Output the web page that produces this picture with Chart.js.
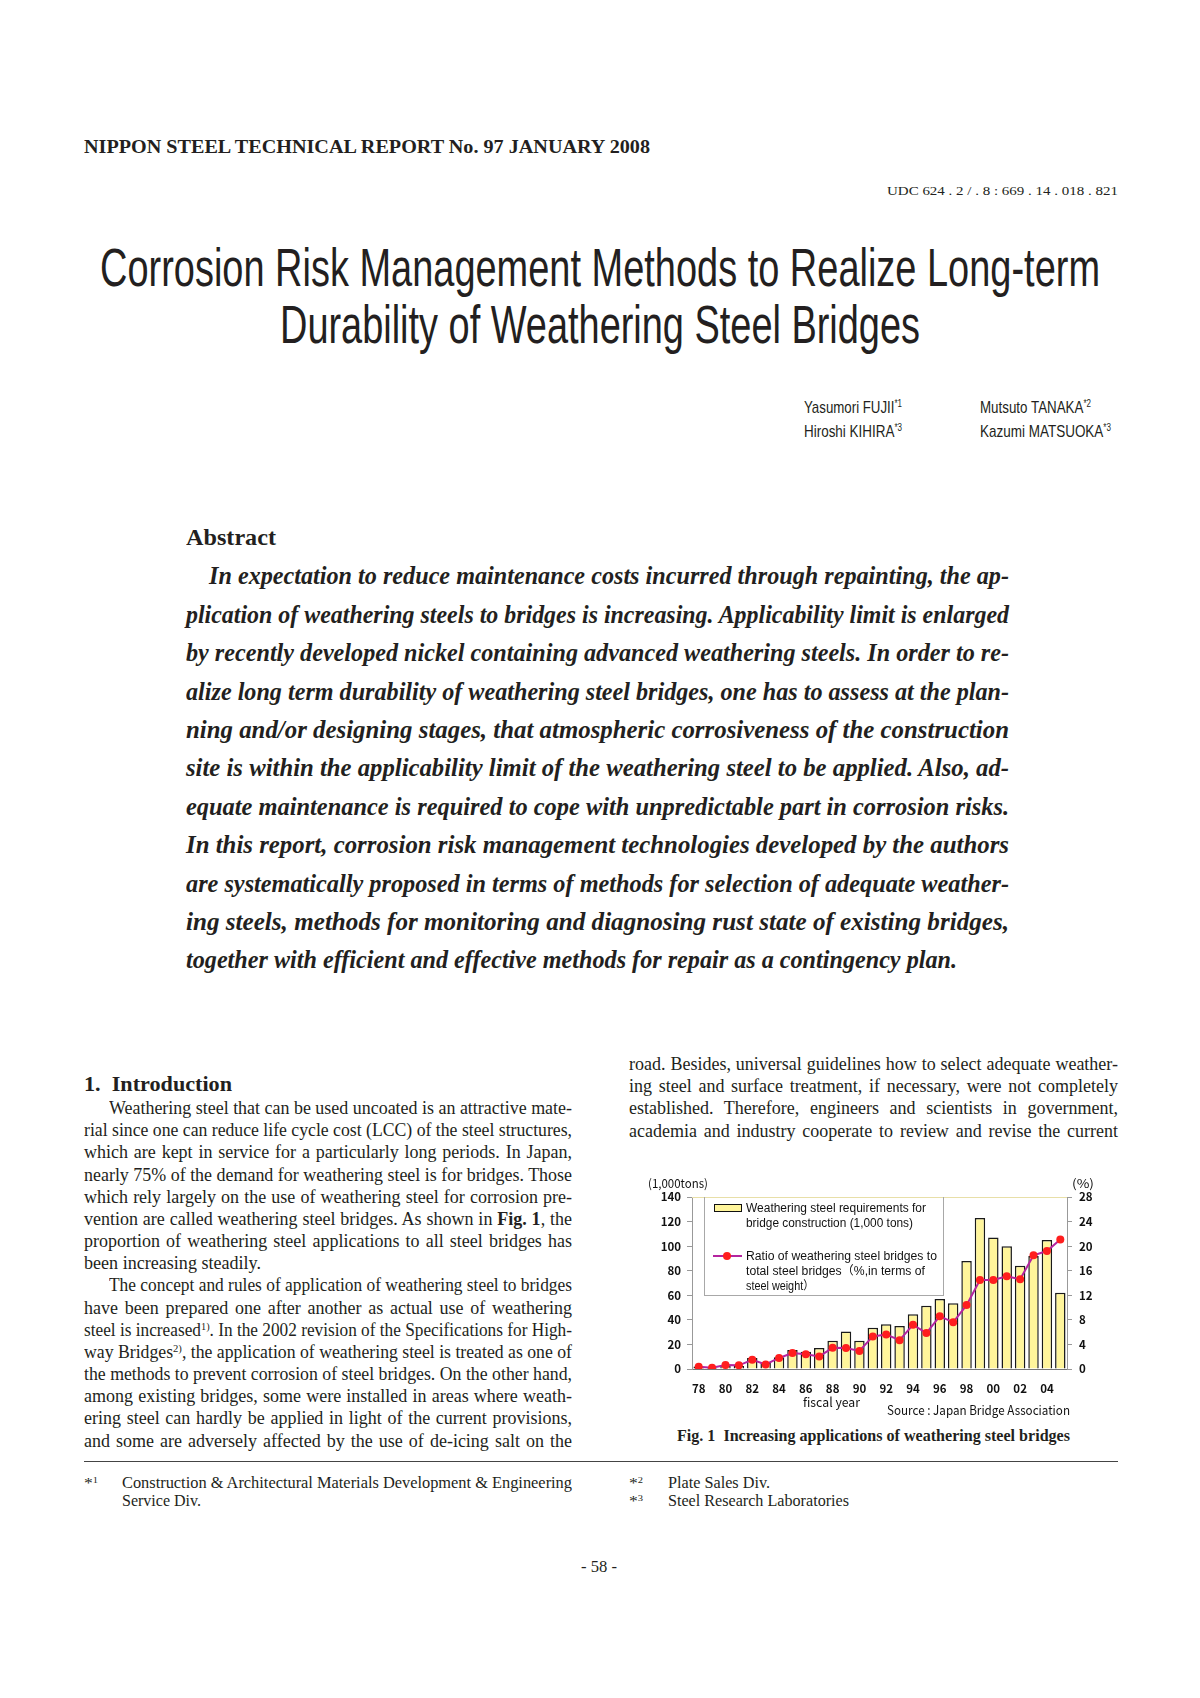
<!DOCTYPE html>
<html>
<head>
<meta charset="utf-8">
<script src="https://cdn.jsdelivr.net/npm/chart.js@4.4.0/dist/chart.umd.min.js"></script>
<style>
  html, body { margin: 0; padding: 0; background: #fff; }
  #page { position: relative; width: 1200px; height: 1698px; overflow: hidden; color: #231f20; }
  .t { position: absolute; white-space: nowrap; transform-origin: 0 50%; }
  .serif { font-family: "Liberation Serif", "Times New Roman", serif; }
  .bold { font-weight: bold; }
  .ital { font-style: italic; }
  .sans { font-family: "Liberation Sans Narrow", "Liberation Sans", Arial, sans-serif; }
  .jp { font-family: "Noto Sans CJK JP", "Noto Sans", sans-serif; color: #111; }
  .leg { font-family: "Liberation Sans", Arial, "Noto Sans CJK JP", sans-serif; color: #111; }
  sup { font-size: 0.6em; vertical-align: 0.6em; line-height: 0; }
  #chartBox { position: absolute; left: 640px; top: 1172px; width: 470px; height: 250px; }
  #legendBox { position: absolute; left: 704px; top: 1197px; width: 240px; height: 99px; border: 1px solid #a8a8a8; border-top: none; box-sizing: border-box; }
</style>
</head>
<body>
<div id="page">
  <div id="chartBox"><canvas id="myChart" width="470" height="250"></canvas></div>
  <div id="legendBox"></div>
</div>
<script>
// 그래프 데이터
const years = ['78','79','80','81','82','83','84','85','86','87','88','89','90','91','92','93','94','95','96','97','98','99','00','01','02','03','04','05'];
const yearLabels = ['78','80','82','84','86','88','90','92','94','96','98','00','02','04'];
const steelTons = [2, 0.8, 3, 2.5, 9, 5, 9.5, 15.5, 14, 17, 23, 30.5, 23, 33.5, 36.5, 35, 44.5, 51.5, 57, 53.5, 88, 123, 107, 100, 84, 92, 105, 62];
const ratioPct = [0.35, 0.2, 0.65, 0.6, 1.5, 0.75, 1.8, 2.6, 2.4, 2.05, 3.45, 3.4, 2.95, 5.3, 5.6, 4.7, 7.2, 5.85, 8.6, 7.6, 10.4, 14.5, 14.5, 15.1, 14.6, 18.5, 19.2, 21.1];
const tonTicks = [0, 20, 40, 60, 80, 100, 120, 140];
const pctTicks = [0, 4, 8, 12, 16, 20, 24, 28];

const page = document.getElementById('page');

// 글자 폭 맞추기
function fit(el, w, justify) {
  let nat = el.getBoundingClientRect().width;
  let sx = w / nat;
  if (justify && nat < w) {
    let n = (el.textContent.match(/ /g) || []).length;
    if (n) { el.style.wordSpacing = ((w - nat) / n) + 'px'; sx = 1; }
  }
  el.style.transform = 'scaleX(' + sx + ')';
}

function put(txt, x, yc, size, cls, w, justify, lh) {
  lh = lh || 1.2;
  let el = document.createElement('div');
  el.className = 't ' + cls;
  el.innerHTML = txt;
  el.style.left = x + 'px';
  el.style.top = (yc - size * lh / 2) + 'px';
  el.style.fontSize = size + 'px';
  el.style.lineHeight = (size * lh) + 'px';
  page.appendChild(el);
  if (w) fit(el, w, justify);
  return el;
}

// 머리글, 제목
put('NIPPON STEEL TECHNICAL REPORT No. 97 JANUARY 2008', 84, 147, 19, 'serif bold', 566);
put('UDC 624 . 2 / . 8 : 669 . 14 . 018 . 821', 887, 191, 12.5, 'serif', 231);
put('Corrosion Risk Management Methods to Realize Long-term', 100, 268, 53, 'sans', 1000);
put('Durability of Weathering Steel Bridges', 280, 325, 53, 'sans', 640);

put('Yasumori FUJII<sup>*1</sup>', 804, 408, 17, 'sans', 98);
put('Hiroshi KIHIRA<sup>*3</sup>', 804, 432, 17, 'sans', 98);
put('Mutsuto TANAKA<sup>*2</sup>', 980, 408, 17, 'sans', 111);
put('Kazumi MATSUOKA<sup>*3</sup>', 980, 432, 17, 'sans', 131);

// 초록
put('Abstract', 186, 538, 23, 'serif bold', 90);
let abs = [
  'In expectation to reduce maintenance costs incurred through repainting, the ap-',
  'plication of weathering steels to bridges is increasing. Applicability limit is enlarged',
  'by recently developed nickel containing advanced weathering steels. In order to re-',
  'alize long term durability of weathering steel bridges, one has to assess at the plan-',
  'ning and/or designing stages, that atmospheric corrosiveness of the construction',
  'site is within the applicability limit of the weathering steel to be applied. Also, ad-',
  'equate maintenance is required to cope with unpredictable part in corrosion risks.',
  'In this report, corrosion risk management technologies developed by the authors',
  'are systematically proposed in terms of methods for selection of adequate weather-',
  'ing steels, methods for monitoring and diagnosing rust state of existing bridges,',
  'together with efficient and effective methods for repair as a contingency plan.'
];
for (let i = 0; i < abs.length; i++) {
  let x = i == 0 ? 209 : 186;
  let w = i == 0 ? 800 : (i == abs.length - 1 ? 771 : 823);
  put(abs[i], x, 576 + i * 38.4, 26, 'serif bold ital', w);
}

// 본문 왼쪽
put('1.&nbsp; Introduction', 84, 1085, 21, 'serif bold', 148);
let intro = [
  'Weathering steel that can be used uncoated is an attractive mate-',
  'rial since one can reduce life cycle cost (LCC) of the steel structures,',
  'which are kept in service for a particularly long periods. In Japan,',
  'nearly 75% of the demand for weathering steel is for bridges. Those',
  'which rely largely on the use of weathering steel for corrosion pre-',
  'vention are called weathering steel bridges. As shown in <b>Fig. 1</b>, the',
  'proportion of weathering steel applications to all steel bridges has',
  'been increasing steadily.',
  'The concept and rules of application of weathering steel to bridges',
  'have been prepared one after another as actual use of weathering',
  'steel is increased<sup>1)</sup>. In the 2002 revision of the Specifications for High-',
  'way Bridges<sup>2)</sup>, the application of weathering steel is treated as one of',
  'the methods to prevent corrosion of steel bridges. On the other hand,',
  'among existing bridges, some were installed in areas where weath-',
  'ering steel can hardly be applied in light of the current provisions,',
  'and some are adversely affected by the use of de-icing salt on the'
];
for (let i = 0; i < intro.length; i++) {
  let ind = (i == 0 || i == 8);
  let x = ind ? 109 : 84;
  let w = ind ? 463 : (i == 7 ? 177 : 488);
  put(intro[i], x, 1109 + i * 22.17, 18, 'serif', w, i != 7, 1.1);
}

// 본문 오른쪽
let right = [
  'road. Besides, universal guidelines how to select adequate weather-',
  'ing steel and surface treatment, if necessary, were not completely',
  'established. Therefore, engineers and scientists in government,',
  'academia and industry cooperate to review and revise the current'
];
for (let i = 0; i < right.length; i++) {
  put(right[i], 629, 1065 + i * 22.17, 18, 'serif', 489, true, 1.1);
}

// 그림 설명, 각주
put('Fig. 1&nbsp; Increasing applications of weathering steel bridges', 677, 1436, 17, 'serif bold', 393);
let rule = document.createElement('div');
rule.style.cssText = 'position:absolute;left:84px;top:1461px;width:1034px;height:1px;background:#444;';
page.appendChild(rule);
put('*<sup>1</sup>', 84, 1483, 15, 'serif', 14, false, 1.1);
put('Construction &amp; Architectural Materials Development &amp; Engineering', 122, 1483, 16, 'serif', 450, false, 1.05);
put('Service Div.', 122, 1501, 16, 'serif', 79, false, 1.05);
put('*<sup>2</sup>', 629, 1483, 15, 'serif', 14, false, 1.1);
put('Plate Sales Div.', 668, 1483, 16, 'serif', 102, false, 1.05);
put('*<sup>3</sup>', 629, 1501, 15, 'serif', 14, false, 1.1);
put('Steel Research Laboratories', 668, 1501, 16, 'serif', 181, false, 1.05);
put('- 58 -', 581, 1567, 17, 'serif', 36);

// 차트 주변 글자
put('(1,000tons)', 648, 1183, 12, 'jp', 60, false, 1.0);
put('(%)', 1072, 1183, 12, 'jp', 22, false, 1.0);
put('fiscal year', 803, 1401, 13, 'jp', 57, false, 1.0);
put('Source : Japan Bridge Association', 887, 1409, 13, 'jp', 183, false, 1.0);

// 범례
let sw1 = document.createElement('div');
sw1.style.cssText = 'position:absolute;left:714px;top:1204px;width:28px;height:8px;background:#fff59b;border:1.5px solid #111;box-sizing:border-box;';
page.appendChild(sw1);
let sw2 = document.createElement('div');
sw2.style.cssText = 'position:absolute;left:713px;top:1255px;width:29px;height:2px;background:#b5249f;';
page.appendChild(sw2);
let dot = document.createElement('div');
dot.style.cssText = 'position:absolute;left:723px;top:1252px;width:8px;height:8px;border-radius:50%;background:#ff1e1e;';
page.appendChild(dot);
put('Weathering steel requirements for', 746, 1208, 12, 'leg', 180, false, 1.0);
put('bridge construction (1,000 tons)', 746, 1223, 12, 'leg', 167, false, 1.0);
put('Ratio of weathering steel bridges to', 746, 1256, 12, 'leg', 191, false, 1.0);
put('total steel bridges（%,in terms of', 746, 1271, 12, 'leg', 179, false, 1.0);
put('steel weight）', 746, 1285.5, 12, 'leg', 68, false, 1.0);

// 차트
const tickFont = { family: '"Noto Sans CJK JP", "Noto Sans", sans-serif', size: 11.5, weight: 'bold' };

// 위쪽 테두리
const topLine = {
  id: 'topLine',
  afterDraw(chart) {
    let a = chart.chartArea, c = chart.ctx;
    c.save();
    c.strokeStyle = '#e8dfa8';
    c.lineWidth = 1;
    c.beginPath();
    c.moveTo(a.left, a.top + 0.5);
    c.lineTo(a.right, a.top + 0.5);
    c.stroke();
    c.restore();
  }
};

let ctx = document.getElementById('myChart');
let config = {
  data: {
    labels: years,
    datasets: [
      {
        type: 'line',
        data: ratioPct,
        yAxisID: 'y1',
        borderColor: '#b5249f',
        borderWidth: 2,
        pointRadius: 4,
        pointBackgroundColor: '#ff1e1e',
        pointBorderColor: '#ff1e1e',
        pointBorderWidth: 0,
        tension: 0,
        order: 0
      },
      {
        type: 'bar',
        data: steelTons,
        yAxisID: 'y',
        backgroundColor: '#fff59b',
        borderColor: '#1a1a1a',
        borderWidth: 1.5,
        barPercentage: 0.78,
        categoryPercentage: 1,
        order: 1
      }
    ]
  },
  options: {
    responsive: false,
    animation: false,
    layout: { padding: { top: 25, left: 0, right: 0, bottom: 0 } },
    plugins: { legend: { display: false }, tooltip: { enabled: false } },
    scales: {
      x: {
        grid: { display: false, drawTicks: false },
        border: { color: '#777' },
        ticks: {
          autoSkip: false, maxRotation: 0, padding: 13, color: '#111', font: tickFont,
          callback: (v, i) => yearLabels.includes(years[i]) ? years[i] : ''
        },
        afterFit: s => { s.height = 53; }
      },
      y: {
        position: 'left', min: 0, max: 140,
        grid: { drawOnChartArea: false, tickLength: 5, color: '#999' },
        border: { color: '#999' },
        ticks: {
          stepSize: 10, padding: 6, color: '#111', font: tickFont,
          callback: v => tonTicks.includes(v) ? v : ''
        },
        afterFit: s => { s.width = 52; }
      },
      y1: {
        position: 'right', min: 0, max: 28,
        grid: { drawOnChartArea: false, tickLength: 5, color: '#999' },
        border: { color: '#999' },
        ticks: {
          stepSize: 2, padding: 7, color: '#111', font: tickFont,
          callback: v => pctTicks.includes(v) ? v : ''
        },
        afterFit: s => { s.width = 43; }
      }
    }
  },
  plugins: [topLine]
};

let myChart = new Chart(ctx, config);
</script>
</body>
</html>
